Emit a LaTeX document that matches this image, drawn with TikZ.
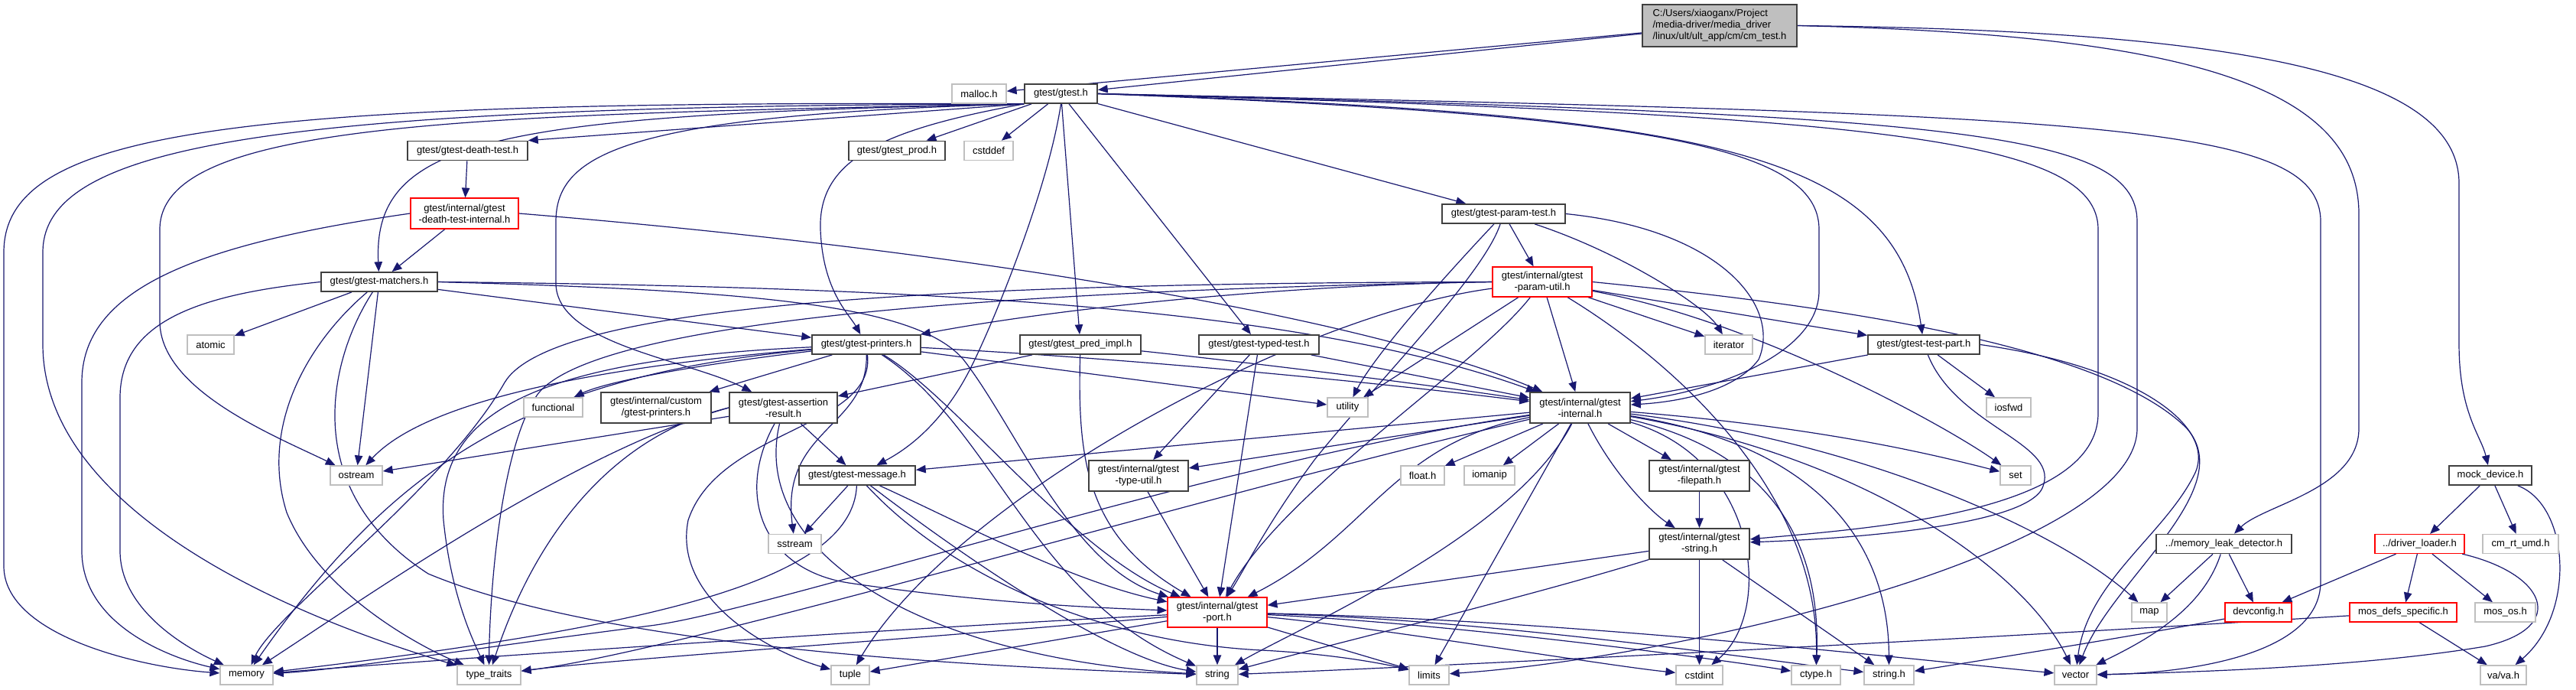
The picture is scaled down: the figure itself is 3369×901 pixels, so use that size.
\documentclass[tikz,border=0pt]{standalone}
\usepackage{fontspec}
\setmainfont{Liberation Sans}
\usetikzlibrary{arrows.meta}
\definecolor{navy}{RGB}{25,25,112}
\definecolor{gborder}{RGB}{191,191,191}
\definecolor{dborder}{RGB}{64,64,64}
\pgfdeclarelayer{bg}\pgfdeclarelayer{edges}
\pgfsetlayers{bg,edges,main}
\begin{document}
\begin{tikzpicture}[x=0.25pt,y=-0.25pt,
 box/.style={draw=dborder, line width=0.45pt, fill=white, inner sep=0pt, minimum height=6.25pt, font=\fontsize{3.25}{3.75}\selectfont, align=center},
 sys/.style={box, draw=gborder, line width=0.4pt},
 incomplete/.style={box, draw=red, line width=0.32pt},
 W/.style={minimum width=#1*0.25pt},
 H/.style={minimum height=#1*0.25pt},
 e/.style={draw=navy, line width=0.3pt, -{Triangle[length=3.2pt,width=2.6pt]}},
]
\useasboundingbox (0,0) rectangle (3369,901);
\begin{pgfonlayer}{bg}\fill[white] (0,0) rectangle (3369,901);\end{pgfonlayer}

\node[box, fill=gborder, align=left, W=202, H=55] (cm) at (2249,33.5) {C:/Users/xiaoganx/Project\\/media-driver/media\_driver\\/linux/ult/ult\_app/cm/cm\_test.h};
\node[sys,W=71] (malloc) at (1280.5,122.5) {malloc.h};
\node[box,W=95] (gtest) at (1387.5,122.5) {gtest/gtest.h};
\node[box,W=126] (prod) at (1173,197) {gtest/gtest\_prod.h};
\node[sys,W=64] (cstddef) at (1293,197) {cstddef};
\node[box,W=157] (deathtest) at (611.5,197) {gtest/gtest-death-test.h};
\node[incomplete,W=141,H=40] (dti) at (607.5,279) {gtest/internal/gtest\\-death-test-internal.h};
\node[box,W=152] (matchers) at (496,368.5) {gtest/gtest-matchers.h};
\node[sys,W=61] (atomic) at (275.5,450.5) {atomic};
\node[box,W=142] (printers) at (1133,450.5) {gtest/gtest-printers.h};
\node[box,W=158] (predimpl) at (1413,450.5) {gtest/gtest\_pred\_impl.h};
\node[box,W=157] (typed) at (1646.5,450.5) {gtest/gtest-typed-test.h};
\node[box,W=161] (paramtest) at (1966.5,279.5) {gtest/gtest-param-test.h};
\node[incomplete,W=130,H=39] (paramutil) at (2017,368.5) {gtest/internal/gtest\\-param-util.h};
\node[sys,W=62] (iterator) at (2261,450.5) {iterator};
\node[box,W=146] (testpart) at (2516,450.5) {gtest/gtest-test-part.h};
\node[sys,W=77] (functional) at (723.5,532.5) {functional};
\node[box,W=144,H=40] (custom) at (858,533) {gtest/internal/custom\\/gtest-printers.h};
\node[box,W=141,H=40] (assertion) at (1024.5,533) {gtest/gtest-assertion\\-result.h};
\node[sys,W=53] (utility) at (1762.5,532.5) {utility};
\node[box,W=131,H=40] (internal) at (2066.5,533) {gtest/internal/gtest\\-internal.h};
\node[sys,W=58] (iosfwd) at (2627,532.5) {iosfwd};
\node[sys,W=68] (ostream) at (466,621.5) {ostream};
\node[box,W=152] (message) at (1121,621.5) {gtest/gtest-message.h};
\node[box,W=130,H=40] (typeutil) at (1489,622) {gtest/internal/gtest\\-type-util.h};
\node[sys,W=57] (floath) at (1860.5,621.5) {float.h};
\node[sys,W=66] (iomanip) at (1948,621.5) {iomanip};
\node[box,W=131,H=40] (filepath) at (2222.5,622) {gtest/internal/gtest\\-filepath.h};
\node[sys,W=40] (set) at (2636,621.5) {set};
\node[box,W=108] (mockdev) at (3257,621.5) {mock\_device.h};
\node[sys,W=69] (sstream) at (1039.5,711) {sstream};
\node[box,W=131,H=40] (gstring) at (2222.5,711) {gtest/internal/gtest\\-string.h};
\node[box,W=177] (leak) at (2908.5,711) {../memory\_leak\_detector.h};
\node[incomplete,W=117] (loader) at (3164.5,711) {../driver\_loader.h};
\node[sys,W=99] (umd) at (3296.5,711) {cm\_rt\_umd.h};
\node[incomplete,W=130,H=39] (port) at (1592,800.5) {gtest/internal/gtest\\-port.h};
\node[sys,W=46] (map) at (2811,800.5) {map};
\node[incomplete,W=87] (devconfig) at (2953.5,800.5) {devconfig.h};
\node[incomplete,W=140] (mosdefs) at (3143,800.5) {mos\_defs\_specific.h};
\node[sys,W=79] (mosos) at (3276.5,800.5) {mos\_os.h};
\node[sys,W=69] (memory) at (322.5,882.5) {memory};
\node[sys,W=83] (typetraits) at (639.5,882.5) {type\_traits};
\node[sys,W=50] (tuple) at (1112,882.5) {tuple};
\node[sys,W=54] (stdstring) at (1592,882.5) {string};
\node[sys,W=52] (limits) at (1869,882.5) {limits};
\node[sys,W=61] (cstdint) at (2222.5,882.5) {cstdint};
\node[sys,W=64] (ctype) at (2375,882.5) {ctype.h};
\node[sys,W=65] (stringh) at (2470.5,882.5) {string.h};
\node[sys,W=55] (vector) at (2714.5,882.5) {vector};
\node[sys,W=60] (vava) at (3274,882.5) {va/va.h};

\begin{pgfonlayer}{edges}
% cm_test.h
\draw[e] (cm) -- (malloc);
\draw[e] (cm) -- (gtest);
\draw[e] (cm.east) .. controls (2850,45) and (3085,110) .. (3085,280) -- (3085,560) .. controls (3085,640) and (2960,660) .. (leak);
\draw[e] (cm.east) .. controls (2950,40) and (3216,100) .. (3216,240) -- (3216,450) .. controls (3216,540) and (3245,570) .. (mockdev);
% gtest.h
\draw[e] (gtest.south west) .. controls (300,130) and (5,170) .. (5,330) -- (5,740) .. controls (5,830) and (180,872) .. (memory);
\draw[e] (gtest.south west) .. controls (350,138) and (56,190) .. (56,330) -- (56,450) .. controls (56,650) and (330,790) .. (typetraits);
\draw[e] (gtest.south west) .. controls (600,150) and (209,160) .. (209,300) -- (209,420) .. controls (209,510) and (360,570) .. (ostream);
\draw[e] (gtest.south west) .. controls (650,150) and (487,180) .. (matchers);
\draw[e] (gtest.south west) -- (deathtest.north east);
\draw[e] (gtest.south west) .. controls (820,150) and (727,200) .. (727,290) -- (727,370) .. controls (727,450) and (900,470) .. (assertion);
\draw[e] (gtest) -- (prod);
\draw[e] (gtest) -- (cstddef);
\draw[e] (gtest.south west) .. controls (1150,170) and (1070,210) .. (1073,300) .. controls (1076,380) and (1110,410) .. (printers);
\draw[e] (gtest.south) .. controls (1370,250) and (1300,420) .. (1270,480) .. controls (1240,540) and (1200,580) .. (message);
\draw[e] (gtest) -- (predimpl);
\draw[e] (gtest) -- (typed);
\draw[e] (gtest) -- (paramtest);
\draw[e] (gtest.east) .. controls (2150,150) and (2379,190) .. (2379,300) -- (2379,380) .. controls (2379,460) and (2250,510) .. (internal);
\draw[e] (gtest.east) .. controls (2250,150) and (2480,200) .. (testpart);
\draw[e] (gtest.east) .. controls (2450,150) and (2744,180) .. (2744,300) -- (2744,540) .. controls (2744,670) and (2450,690) .. (gstring);
\draw[e] (gtest.east) .. controls (2550,150) and (2795,170) .. (2795,290) -- (2795,560) .. controls (2795,720) and (2200,860) .. (limits);
\draw[e] (gtest.east) .. controls (2750,150) and (3035,160) .. (3035,290) -- (3035,760) .. controls (3035,860) and (2850,880) .. (vector);
% death test
\draw[e] (deathtest) -- (dti);
\draw[e] (dti) -- (matchers);
\draw[e] (dti.west) .. controls (250,320) and (107,380) .. (107,500) -- (107,720) .. controls (107,820) and (230,862) .. (memory);
\draw[e] (dti.east) .. controls (1300,330) and (1800,420) .. (internal);
% matchers
\draw[e] (matchers) -- (atomic);
\draw[e] (matchers.west) .. controls (260,385) and (157,420) .. (157,520) -- (157,720) .. controls (157,800) and (250,850) .. (memory);
\draw[e] (matchers) .. controls (400,450) and (340,560) .. (375,670) .. controls (420,780) and (560,850) .. (typetraits);
\draw[e] (matchers) .. controls (430,470) and (390,640) .. (560,750) .. controls (800,850) and (1300,872) .. (stdstring);
\draw[e] (matchers) -- (ostream);
\draw[e] (matchers) -- (printers);
\draw[e] (matchers.east) .. controls (1200,375) and (1700,400) .. (internal);
\draw[e] (matchers.east) .. controls (1000,380) and (1200,400) .. (1260,470) .. controls (1330,560) and (1400,740) .. (port);
% printers
\draw[e] (printers) .. controls (900,478) and (790,500) .. (functional);
\draw[e] (printers) -- (custom);
\draw[e] (printers) .. controls (800,478) and (560,520) .. (ostream);
\draw[e] (printers) .. controls (700,490) and (520,600) .. (memory);
\draw[e] (printers) .. controls (700,470) and (570,540) .. (580,680) .. controls (590,780) and (620,840) .. (typetraits);
\draw[e] (printers) -- (utility);
\draw[e] (printers) .. controls (1135,560) and (1020,560) .. (sstream);
\draw[e] (printers) .. controls (1145,560) and (940,560) .. (900,680) .. controls (880,780) and (1000,850) .. (tuple);
\draw[e] (printers) .. controls (1300,560) and (1350,780) .. (stdstring);
\draw[e] (printers) .. controls (1250,520) and (1400,720) .. (port);
\draw[e] (printers) .. controls (1500,470) and (1800,500) .. (internal);
% assertion result
\draw[e] (assertion) -- (message);
\draw[e] (assertion) -- (ostream);
\draw[e] (assertion.west) .. controls (750,590) and (480,780) .. (memory);
\draw[e] (assertion.west) .. controls (800,570) and (700,700) .. (typetraits);
\draw[e] (assertion) .. controls (980,720) and (1200,860) .. (stdstring);
\draw[e] (assertion) .. controls (960,650) and (1000,745) .. (1110,762) .. controls (1300,790) and (1450,795) .. (port);
% pred impl
\draw[e] (predimpl) -- (assertion);
\draw[e] (predimpl) .. controls (1409,600) and (1420,700) .. (port);
\draw[e] (predimpl) .. controls (1600,470) and (1850,500) .. (internal);
% typed test
\draw[e] (typed) -- (typeutil);
\draw[e] (typed) -- (port);
\draw[e] (typed) -- (internal);
% param test
\draw[e] (paramtest) -- (paramutil);
\draw[e] (paramtest) .. controls (2120,330) and (2230,400) .. (iterator);
\draw[e] (paramtest) .. controls (1900,350) and (1800,460) .. (utility);
\draw[e] (paramtest) .. controls (1940,360) and (1800,500) .. (1720,600) .. controls (1660,680) and (1630,740) .. (port);
\draw[e] (paramtest.east) .. controls (2250,300) and (2330,400) .. (2300,470) .. controls (2270,510) and (2200,525) .. (internal);
% param util
\draw[e] (paramutil.west) .. controls (1700,372) and (1400,400) .. (printers);
\draw[e] (paramutil) -- (iterator);
\draw[e] (paramutil) -- (testpart);
\draw[e] (paramutil) -- (internal);
\draw[e] (paramutil) -- (utility);
\draw[e] (paramutil) .. controls (1700,410) and (1250,650) .. (tuple);
\draw[e] (paramutil) .. controls (1930,480) and (1680,640) .. (port);
\draw[e] (paramutil.west) .. controls (1200,370) and (720,400) .. (660,500) .. controls (580,640) and (360,800) .. (memory);
\draw[e] (paramutil.west) .. controls (1300,380) and (760,420) .. (700,520) .. controls (650,600) and (640,800) .. (typetraits);
\draw[e] (paramutil) .. controls (2300,420) and (2550,560) .. (set);
\draw[e] (paramutil.east) .. controls (2400,400) and (2750,450) .. (2860,560) .. controls (2930,640) and (2760,760) .. (vector);
\draw[e] (paramutil) .. controls (2200,480) and (2380,650) .. (ctype);
% internal
\draw[e] (internal) -- (message);
\draw[e] (internal) -- (typeutil);
\draw[e] (internal) .. controls (1600,600) and (1000,800) .. (850,818) .. controls (600,850) and (450,875) .. (memory);
\draw[e] (internal) .. controls (1600,640) and (900,850) .. (typetraits);
\draw[e] (internal) -- (floath);
\draw[e] (internal) -- (iomanip);
\draw[e] (internal) -- (filepath);
\draw[e] (internal) .. controls (2110,620) and (2160,670) .. (gstring);
\draw[e] (internal) .. controls (1820,580) and (1790,700) .. (port);
\draw[e] (internal) -- (limits);
\draw[e] (internal) .. controls (1980,700) and (1700,820) .. (stdstring);
\draw[e] (internal) .. controls (2300,600) and (2320,800) .. (cstdint);
\draw[e] (internal) .. controls (2350,600) and (2380,750) .. (ctype);
\draw[e] (internal) .. controls (2420,590) and (2470,750) .. (stringh);
\draw[e] (internal) .. controls (2400,560) and (2550,600) .. (set);
\draw[e] (internal) .. controls (2450,580) and (2700,700) .. (map);
\draw[e] (internal) .. controls (2450,600) and (2650,750) .. (vector);
% filepath, type util
\draw[e] (filepath) -- (gstring);
\draw[e] (typeutil) -- (port);
% message
\draw[e] (message) -- (sstream);
\draw[e] (message) .. controls (1250,680) and (1400,760) .. (port);
\draw[e] (message) .. controls (1250,720) and (1450,860) .. (stdstring);
\draw[e] (message) .. controls (1115,760) and (850,820) .. (memory);
\draw[e] (message) .. controls (1250,760) and (1450,840) .. (1650,850) .. controls (1750,855) and (1820,870) .. (limits);
% gtest-string
\draw[e] (gstring) -- (port);
\draw[e] (gstring) .. controls (2000,780) and (1750,840) .. (stdstring);
\draw[e] (gstring) -- (cstdint);
\draw[e] (gstring) -- (stringh);
% port
\draw[e] (port) .. controls (1200,820) and (600,860) .. (memory);
\draw[e] (port) .. controls (1200,835) and (800,862) .. (typetraits);
\draw[e] (port) -- (tuple);
\draw[e] (port) -- (stdstring);
\draw[e] (port) -- (limits);
\draw[e] (port) .. controls (1800,820) and (2100,870) .. (cstdint);
\draw[e] (port) .. controls (1900,815) and (2250,862) .. (ctype);
\draw[e] (port) .. controls (1950,810) and (2300,862) .. (stringh);
\draw[e] (port) .. controls (2050,810) and (2500,862) .. (vector);
% test part
\draw[e] (testpart) -- (iosfwd);
\draw[e] (testpart) -- (internal);
\draw[e] (testpart.east) .. controls (2800,480) and (2900,560) .. (2870,620) .. controls (2830,700) and (2730,760) .. (vector);
\draw[e] (testpart) .. controls (2560,560) and (2700,580) .. (2670,640) .. controls (2640,690) and (2400,705) .. (gstring);
% driver side
\draw[e] (leak) -- (map);
\draw[e] (leak) -- (devconfig);
\draw[e] (leak) .. controls (2880,800) and (2800,840) .. (vector);
\draw[e] (loader) -- (devconfig);
\draw[e] (loader) -- (mosdefs);
\draw[e] (loader) -- (mosos);
\draw[e] (loader) .. controls (3330,750) and (3360,820) .. (3250,845) .. controls (3100,870) and (2900,878) .. (vector);
\draw[e] (mosdefs) -- (vava);
\draw[e] (mosdefs) .. controls (2500,840) and (1900,870) .. (stdstring);
\draw[e] (devconfig) .. controls (2800,830) and (2600,862) .. (stringh);
\draw[e] (mockdev) -- (loader);
\draw[e] (mockdev) -- (umd);
\draw[e] (mockdev) .. controls (3360,660) and (3370,800) .. (vava);
\end{pgfonlayer}
\end{tikzpicture}
\end{document}
